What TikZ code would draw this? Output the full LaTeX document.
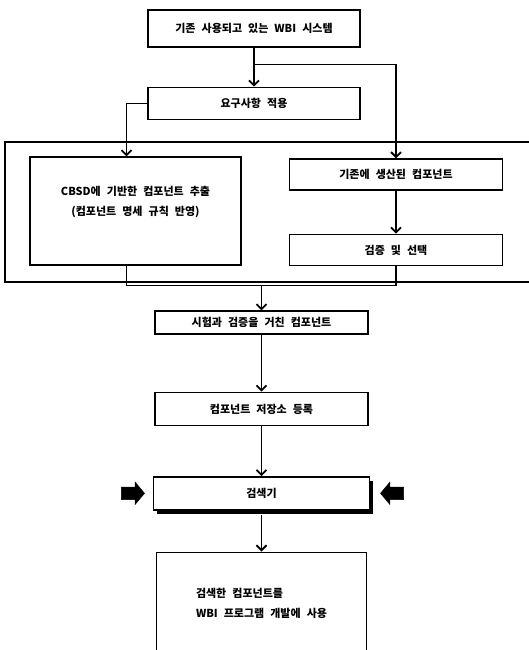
\documentclass[tikz,border=0pt]{standalone}
\usepackage{fontspec}
\newfontfamily\krfont[WordSpace=2.4]{Noto Sans CJK KR}
\usepackage{tikz}
\usetikzlibrary{positioning,arrows.meta,shapes.arrows,shadows,calc}

\tikzset{
  box/.style={rectangle, draw, line width=1.4pt, fill=white, minimum width=212pt,
    minimum height=32pt, align=center, font=\krfont\bfseries\fontsize{11}{20}\selectfont},
  line/.style={line width=1.1pt},
  arr/.style={line width=1.1pt, -{Straight Barb[length=5pt,width=10pt,line width=1.8pt]}},
  frame/.style={line width=1.4pt},
  blockarrow/.style={single arrow, fill=black, draw=black, line width=0.5pt, minimum height=23pt,
    inner xsep=0pt, inner ysep=6pt, single arrow head extend=5pt, single arrow tip angle=100}
}

\begin{document}
\begin{tikzpicture}[x=1pt,y=1pt]
  \useasboundingbox (0,0) rectangle (528,-650);

  % upper part: existing system and requirements
  \node (system) [box, minimum height=37pt] at (254,-28.5) {기존 사용되고 있는 WBI 시스템};
  \node (req) [box, below=39pt of system] {요구사항 적용};

  % grouping frame with the two paths
  \draw[frame] (5,-142) rectangle (540,-282);
  \node (extract) [box, minimum width=211pt, minimum height=108pt] at (135.5,-211)
    {CBSD에 기반한 컴포넌트 추출\\(컴포넌트 명세 규칙 반영)\\\mbox{}};
  \node (existing) [box, minimum width=213pt, minimum height=31pt] at (396,-174.5) {기존에 생산된 컴포넌트};
  \node (verify) [box, minimum width=213pt, minimum height=31pt, below=43pt of existing] {검증 및 선택};

  % lower chain
  \node (tested) [box, minimum width=213pt, minimum height=23pt] at (261.5,-322.5) {시험과 검증을 거친 컴포넌트};
  \node (registry) [box, minimum width=213pt, minimum height=33pt, below=57pt of tested] {컴포넌트 저장소 등록};
  \node (search) [box, minimum width=216pt, minimum height=33pt, below=50pt of registry,
    drop shadow={shadow xshift=3pt, shadow yshift=-4pt, opacity=1, fill=black}] {검색기};
  \node (use) [box, minimum width=210pt, minimum height=103pt, below=41pt of search]
    {\begin{tabular}{@{}l@{}}검색한 컴포넌트를\\WBI 프로그램 개발에 사용\end{tabular}};

  \node (lblock) [blockarrow, left=8pt of search] {};
  \node (rblock) [blockarrow, shape border rotate=180, right=10pt of search] {};

  % connectors
  \coordinate (split) at ($(system.south)!0.44!(req.north)$);
  \draw[arr] (system.south) -- (req.north);
  \draw[arr] (split) -| (existing.north);
  \draw[arr] (req.west) -| ([xshift=-9pt]extract.north);
  \draw[arr] (existing.south) -- (verify.north);

  \coordinate (merge) at ([yshift=25pt]tested.north);
  \draw[line] ([xshift=-9pt]extract.south) |- (merge) -| (verify.south);
  \draw[arr] (merge) -- (tested.north);

  \draw[arr] (tested.south) -- (registry.north);
  \draw[arr] (registry.south) -- (search.north);
  \draw[arr] ([yshift=-4pt]search.south) -- (use.north);
\end{tikzpicture}
\end{document}
